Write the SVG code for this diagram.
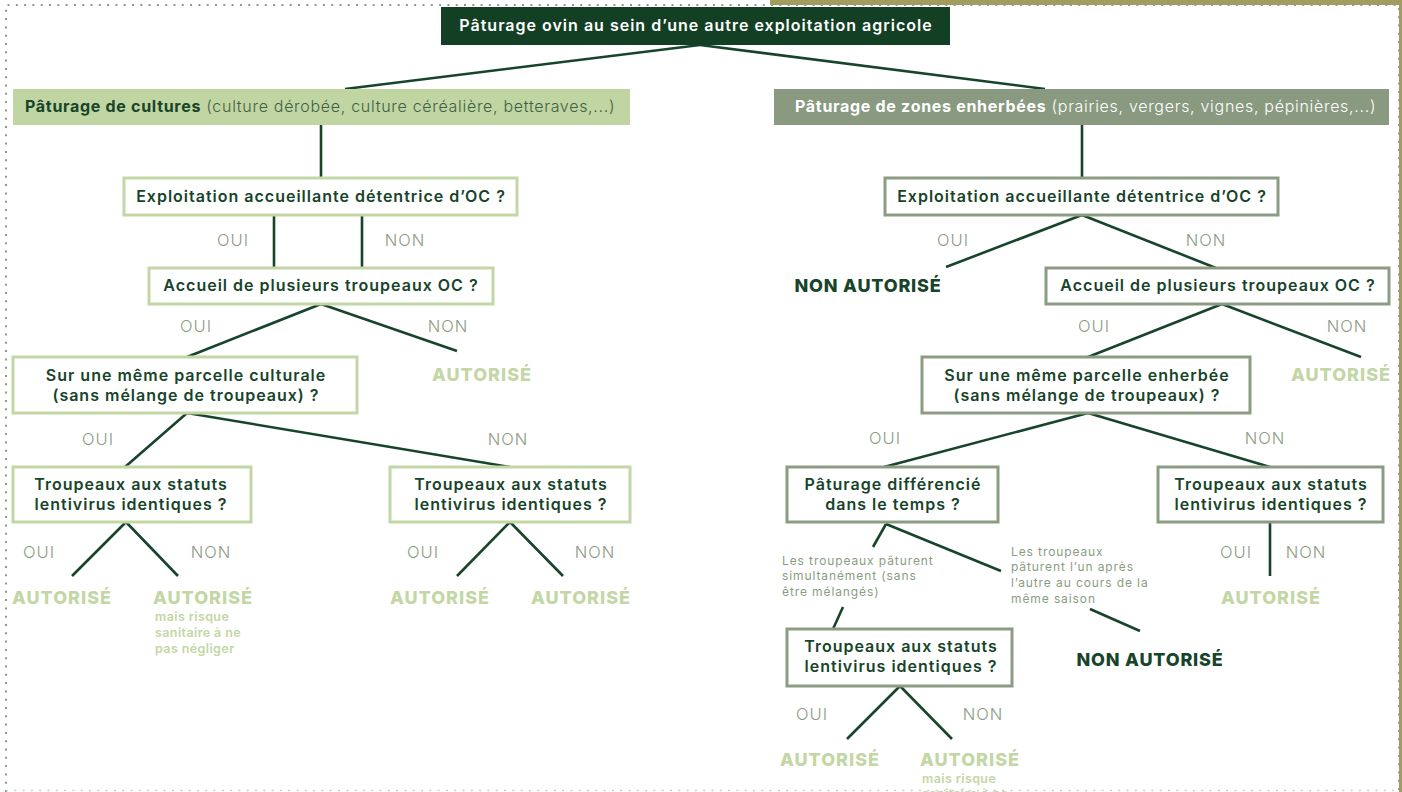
<svg xmlns="http://www.w3.org/2000/svg" width="1402" height="792" viewBox="0 0 1402 792">
<defs>
<style>
.q{font-family:Inter,"Noto Sans","Liberation Sans",sans-serif;font-weight:600;font-size:16px;letter-spacing:1px;fill:#17442a;text-anchor:middle}
.h{font-family:Inter,"Noto Sans","Liberation Sans",sans-serif;font-size:16px;letter-spacing:0.7px}
.bl{fill:#fff;stroke:#c3d6a5;stroke-width:3}
.br{fill:#fff;stroke:#8b9c83;stroke-width:3}
.lab{font-family:Inter,"Noto Sans","Liberation Sans",sans-serif;font-weight:300;font-size:16.5px;letter-spacing:1px;fill:#8b9c83;text-anchor:middle}
.ok{font-family:Inter,"Noto Sans","Liberation Sans",sans-serif;font-weight:800;font-size:18px;letter-spacing:1px;fill:#c3d6a5;text-anchor:middle}
.ko{font-family:Inter,"Noto Sans","Liberation Sans",sans-serif;font-weight:800;font-size:18px;letter-spacing:0.8px;fill:#17442a;text-anchor:middle}
.note{font-family:Inter,"Noto Sans","Liberation Sans",sans-serif;font-weight:600;font-size:12.5px;letter-spacing:0.4px;fill:#c3d6a5}
.sm{font-family:Inter,"Noto Sans","Liberation Sans",sans-serif;font-weight:400;font-size:12px;letter-spacing:0.9px;fill:#8b9c83}
.c line{stroke:#17442a;stroke-width:2.6;fill:none}
</style>
</defs>
<rect x="0" y="0" width="1402" height="792" fill="#fff"/>
<rect x="770" y="0" width="632" height="5" fill="#a29c5e"/>
<rect x="1399" y="0" width="3" height="792" fill="#a29c5e"/>
<path d="M6 792 V5 H1399 V792" fill="none" stroke="#8c9c88" stroke-width="2" stroke-dasharray="2 6.3"/>
<path d="M6 790.5 H1399" fill="none" stroke="#c9d0c6" stroke-width="1.5" stroke-dasharray="2 6.3"/>

<g class="c">
<line x1="700" y1="45" x2="345" y2="89"/>
<line x1="700" y1="45" x2="1045" y2="89"/>
<line x1="321" y1="125" x2="321" y2="178"/>
<line x1="274" y1="215" x2="274" y2="268"/>
<line x1="362" y1="215" x2="362" y2="268"/>
<line x1="321" y1="304" x2="187" y2="357"/>
<line x1="321" y1="304" x2="457" y2="351"/>
<line x1="187" y1="413" x2="125" y2="467"/>
<line x1="187" y1="413" x2="510" y2="467"/>
<line x1="126" y1="522" x2="72" y2="576"/>
<line x1="126" y1="522" x2="178" y2="576"/>
<line x1="510" y1="522" x2="457" y2="576"/>
<line x1="510" y1="522" x2="563" y2="576"/>
<line x1="1082" y1="125" x2="1082" y2="178"/>
<line x1="1082" y1="215" x2="946" y2="267"/>
<line x1="1082" y1="215" x2="1216" y2="268"/>
<line x1="1222" y1="304" x2="1088" y2="357"/>
<line x1="1222" y1="304" x2="1361" y2="357"/>
<line x1="1088" y1="413" x2="884" y2="467"/>
<line x1="1088" y1="413" x2="1270" y2="467"/>
<line x1="1270" y1="522" x2="1270" y2="576"/>
<line x1="886" y1="524" x2="873" y2="547"/>
<line x1="886" y1="524" x2="1001" y2="571"/>
<line x1="843" y1="607" x2="833" y2="629"/>
<line x1="1090" y1="609" x2="1140" y2="631"/>
<line x1="900" y1="686" x2="847" y2="739"/>
<line x1="900" y1="686" x2="952" y2="739"/>
</g>

<g id="title">
<rect x="441" y="7" width="509" height="38" fill="#133f24"/>
<text x="696" y="31" class="q" style="fill:#fff">Pâturage ovin au sein d’une autre exploitation agricole</text>
</g>
<g id="h-left">
<rect x="13" y="89" width="617" height="36" fill="#c0d5a1"/>
<text x="25" y="112" class="h" fill="#17442a"><tspan font-weight="700">Pâturage de cultures</tspan><tspan font-weight="300" fill="#3f5f46"> (culture dérobée, culture céréalière, betteraves,...)</tspan></text>
</g>
<g id="h-right">
<rect x="774" y="89" width="615" height="36" fill="#899a80"/>
<text x="795" y="112" class="h" fill="#fff"><tspan font-weight="700">Pâturage de zones enherbées</tspan><tspan font-weight="300"> (prairies, vergers, vignes, pépinières,...)</tspan></text>
</g>

<g id="l-q1">
<rect x="124" y="178" width="393" height="37" class="bl"/>
<text x="321" y="202" class="q">Exploitation accueillante détentrice d’OC ?</text>
</g>
<text x="233" y="246" class="lab">OUI</text>
<text x="405" y="246" class="lab">NON</text>
<g id="l-q2">
<rect x="149" y="268" width="344" height="36" class="bl"/>
<text x="321" y="291" class="q">Accueil de plusieurs troupeaux OC ?</text>
</g>
<text x="196" y="332" class="lab">OUI</text>
<text x="448" y="332" class="lab">NON</text>
<text x="482" y="381" class="ok">AUTORISÉ</text>
<g id="l-q3">
<rect x="13" y="357" width="344" height="56" class="bl"/>
<text x="186" y="381" class="q">Sur une même parcelle culturale</text>
<text x="186" y="401" class="q">(sans mélange de troupeaux) ?</text>
</g>
<text x="98" y="445" class="lab">OUI</text>
<text x="508" y="445" class="lab">NON</text>
<g id="l-q4a">
<rect x="13" y="467" width="238" height="55" class="bl"/>
<text x="131" y="490" class="q">Troupeaux aux statuts</text>
<text x="131" y="510" class="q">lentivirus identiques ?</text>
</g>
<text x="39" y="558" class="lab">OUI</text>
<text x="211" y="558" class="lab">NON</text>
<text x="62" y="604" class="ok">AUTORISÉ</text>
<text x="203" y="604" class="ok">AUTORISÉ</text>
<text class="note"><tspan x="155" y="621">mais risque</tspan><tspan x="155" y="637">sanitaire à ne</tspan><tspan x="155" y="653">pas négliger</tspan></text>
<g id="l-q4b">
<rect x="390" y="467" width="240" height="55" class="bl"/>
<text x="511" y="490" class="q">Troupeaux aux statuts</text>
<text x="511" y="510" class="q">lentivirus identiques ?</text>
</g>
<text x="423" y="558" class="lab">OUI</text>
<text x="595" y="558" class="lab">NON</text>
<text x="440" y="604" class="ok">AUTORISÉ</text>
<text x="581" y="604" class="ok">AUTORISÉ</text>

<g id="r-q1">
<rect x="885" y="178" width="393" height="37" class="br"/>
<text x="1082" y="202" class="q">Exploitation accueillante détentrice d’OC ?</text>
</g>
<text x="953" y="246" class="lab">OUI</text>
<text x="1206" y="246" class="lab">NON</text>
<text x="868" y="292" class="ko">NON AUTORISÉ</text>
<g id="r-q2">
<rect x="1046" y="268" width="343" height="36" class="br"/>
<text x="1218" y="291" class="q">Accueil de plusieurs troupeaux OC ?</text>
</g>
<text x="1094" y="332" class="lab">OUI</text>
<text x="1347" y="332" class="lab">NON</text>
<text x="1341" y="381" class="ok">AUTORISÉ</text>
<g id="r-q3">
<rect x="922" y="357" width="328" height="56" class="br"/>
<text x="1087" y="381" class="q">Sur une même parcelle enherbée</text>
<text x="1087" y="401" class="q">(sans mélange de troupeaux) ?</text>
</g>
<text x="885" y="444" class="lab">OUI</text>
<text x="1265" y="444" class="lab">NON</text>
<g id="r-q4a">
<rect x="787" y="467" width="211" height="55" class="br"/>
<text x="893" y="490" class="q">Pâturage différencié</text>
<text x="893" y="510" class="q">dans le temps ?</text>
</g>
<g id="r-q4b">
<rect x="1158" y="467" width="225" height="55" class="br"/>
<text x="1271" y="490" class="q">Troupeaux aux statuts</text>
<text x="1271" y="510" class="q">lentivirus identiques ?</text>
</g>
<text x="1236" y="558" class="lab">OUI</text>
<text x="1306" y="558" class="lab">NON</text>
<text x="1271" y="604" class="ok">AUTORISÉ</text>
<text class="sm"><tspan x="782" y="565">Les troupeaux pâturent</tspan><tspan x="782" y="580">simultanément (sans</tspan><tspan x="782" y="596">être mélangés)</tspan></text>
<text class="sm"><tspan x="1011" y="556">Les troupeaux</tspan><tspan x="1011" y="571">pâturent l’un après</tspan><tspan x="1011" y="587">l’autre au cours de la</tspan><tspan x="1011" y="603">même saison</tspan></text>
<text x="1150" y="666" class="ko">NON AUTORISÉ</text>
<g id="r-q5">
<rect x="787" y="629" width="225" height="57" class="br"/>
<text x="901" y="652" class="q">Troupeaux aux statuts</text>
<text x="901" y="672" class="q">lentivirus identiques ?</text>
</g>
<text x="812" y="720" class="lab">OUI</text>
<text x="983" y="720" class="lab">NON</text>
<text x="830" y="766" class="ok">AUTORISÉ</text>
<text x="970" y="766" class="ok">AUTORISÉ</text>
<text class="note"><tspan x="922" y="783">mais risque</tspan><tspan x="922" y="798">sanitaire à ne</tspan></text>
</svg>
